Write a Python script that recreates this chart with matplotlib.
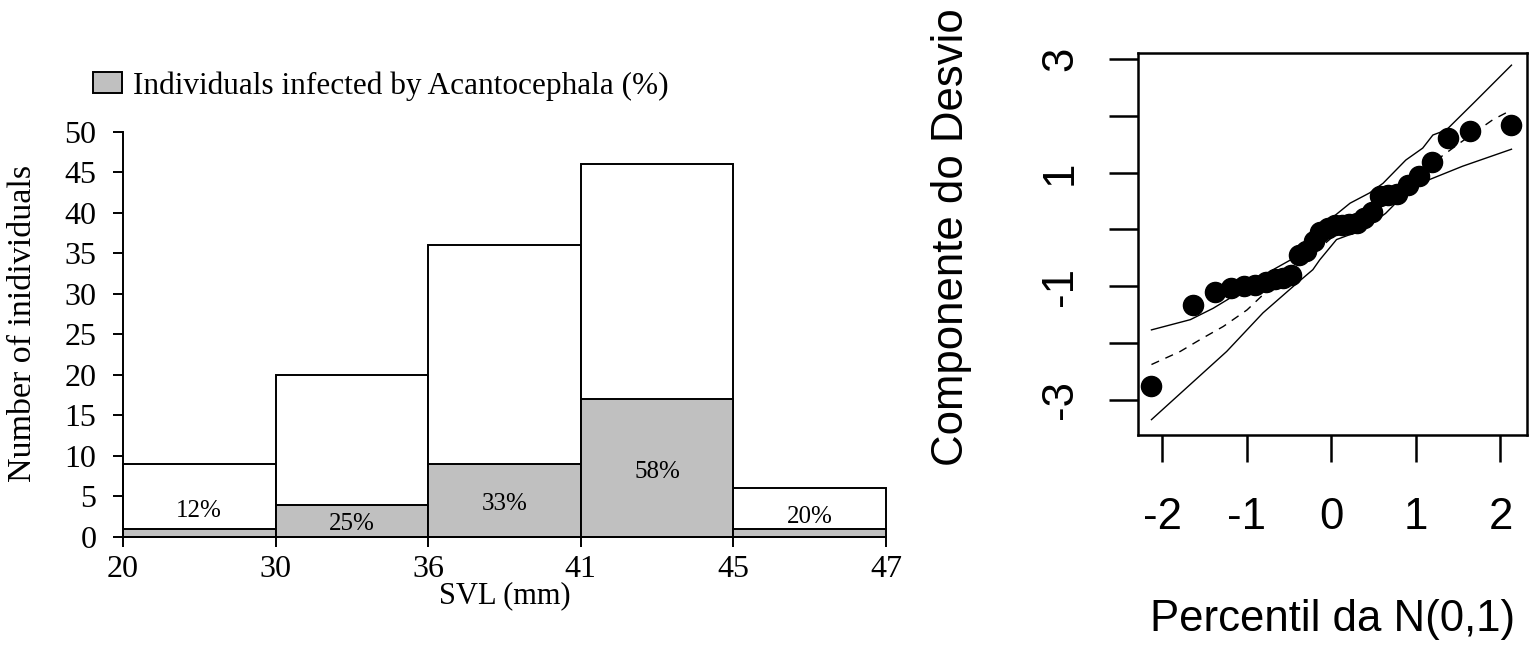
import matplotlib.pyplot as plt

# --- left panel: SVL classes ---
svl_edges = ['20', '30', '36', '41', '45', '47']
total_counts = [9, 20, 36, 46, 6]
infected_counts = [1, 4, 9, 17, 1]
pct_labels = ['12%', '25%', '33%', '58%', '20%']

# --- right panel: normal QQ plot of deviance residuals with envelope ---
qq_x = [-2.13, -1.64, -1.38, -1.19, -1.04, -0.90, -0.78, -0.67, -0.57, -0.48,
        -0.38, -0.30, -0.21, -0.13, -0.04, 0.04, 0.13, 0.21, 0.30, 0.38,
        0.48, 0.57, 0.67, 0.78, 0.90, 1.04, 1.19, 1.38, 1.64, 2.13]
qq_y = [-2.75, -1.34, -1.10, -1.03, -0.99, -0.98, -0.93, -0.88, -0.85, -0.80,
        -0.45, -0.38, -0.20, -0.05, 0.02, 0.07, 0.08, 0.09, 0.12, 0.20,
        0.30, 0.58, 0.60, 0.62, 0.78, 0.94, 1.18, 1.61, 1.73, 1.83]

env_up_x = [-2.13, -1.67, -1.40, -1.20, -0.96, -0.69, -0.45, -0.25, -0.02, 0.22,
            0.45, 0.61, 0.88, 1.08, 1.20, 1.36, 1.70, 2.13]
env_up_y = [-1.77, -1.59, -1.39, -1.21, -1.03, -0.71, -0.51, -0.30, 0.17, 0.46,
            0.64, 0.81, 1.22, 1.43, 1.66, 1.75, 2.25, 2.89]
env_lo_x = [-2.13, -1.24, -0.81, -0.41, -0.22, -0.14, 0.06, 0.37, 0.64, 0.88,
            1.15, 1.55, 2.13]
env_lo_y = [-3.35, -2.15, -1.47, -0.95, -0.71, -0.54, -0.18, -0.01, 0.28, 0.64,
            0.87, 1.11, 1.41]
env_med_x = [-2.13, -1.79, -1.53, -1.28, -1.00, -0.83, -0.50, 0.00, 0.50, 1.00,
             1.50, 1.91, 2.13]
env_med_y = [-2.38, -2.15, -1.92, -1.71, -1.42, -1.18, -0.80, -0.15, 0.40, 0.95,
             1.50, 1.93, 2.10]

serif = 'Liberation Serif'
sans = 'Liberation Sans'
plt.rcParams['font.family'] = serif

fig = plt.figure(figsize=(15.39, 6.54), dpi=100)

# ---------------- left: stacked histogram ----------------
ax1 = fig.add_axes([0.0799, 0.1789, 0.4958, 0.6193])
pos = [i + 0.5 for i in range(len(total_counts))]
ax1.bar(pos, total_counts, width=1.0, color='white', edgecolor='black',
        linewidth=1.4, clip_on=False)
inf = ax1.bar(pos, infected_counts, width=1.0, color='#c0c0c0', edgecolor='black',
              linewidth=1.4, clip_on=False,
              label='Individuals infected by Acantocephala (%)')

label_y = [3.2, 1.6, 4.1, 8.0, 2.5]
for p, ly, t in zip(pos, label_y, pct_labels):
    ax1.text(p, ly, t, ha='center', va='center', fontsize=18)

ax1.set_xlim(0, 5)
ax1.set_ylim(0, 50)
ax1.set_xticks(range(len(svl_edges)))
ax1.set_xticklabels(svl_edges)
ax1.set_yticks(range(0, 51, 5))
for s in ['top', 'right']:
    ax1.spines[s].set_visible(False)
for s in ['left', 'bottom']:
    ax1.spines[s].set_linewidth(1.4)
ax1.tick_params(axis='both', direction='out', length=7, width=1.4, labelsize=23)
ax1.tick_params(axis='x', pad=6)
ax1.tick_params(axis='y', pad=12)

ax1.set_xlabel('SVL (mm)', fontsize=22)
ax1.xaxis.set_label_coords(0.5, -0.11)
ax1.set_ylabel('Number of inidividuals', fontsize=24.5)
ax1.yaxis.set_label_coords(-0.111, 0.528)

ax1.legend(handles=[inf], loc='center left', bbox_to_anchor=(93 / 1539, 1 - 86 / 654),
           bbox_transform=fig.transFigure, frameon=False, fontsize=22.5,
           borderpad=0, borderaxespad=0, handlelength=0.93, handleheight=0.67,
           handletextpad=0.35)

# ---------------- right: QQ plot ----------------
ax2 = fig.add_axes([0.7394, 0.3349, 0.2526, 0.5846])
ax2.plot(env_lo_x, env_lo_y, color='black', lw=1.0)
ax2.plot(env_up_x, env_up_y, color='black', lw=1.0)
ax2.plot(env_med_x, env_med_y, color='black', lw=1.0, ls=(0, (6, 5)))
ax2.plot(qq_x, qq_y, 'o', color='black', ms=14.5)

ax2.set_xlim(-2.29, 2.31)
ax2.set_ylim(-3.62, 3.11)
ax2.set_xticks([-2, -1, 0, 1, 2])
ax2.set_xticklabels(['-2', '-1', '0', '1', '2'], family=sans, fontsize=31.5)
ax2.set_yticks([-3, -2, -1, 0, 1, 2, 3])
ax2.set_yticklabels(['-3', '', '-1', '', '1', '', '3'], family=sans, fontsize=31.5,
                    rotation=90, va='center')
for s in ax2.spines.values():
    s.set_linewidth(1.8)
ax2.tick_params(axis='x', direction='out', length=19.5, width=1.8, pad=25)
ax2.tick_params(axis='y', direction='out', length=21, width=1.8, pad=20)

ax2.set_xlabel('Percentil da N(0,1)', family=sans, fontsize=31.5)
ax2.xaxis.set_label_coords(0.5, -0.429)
ax2.set_ylabel('Componente do Desvio', family=sans, fontsize=31.5)
ax2.yaxis.set_label_coords(-0.427, 0.518)

fig.savefig('out.png', dpi=100)
plt.close(fig)
